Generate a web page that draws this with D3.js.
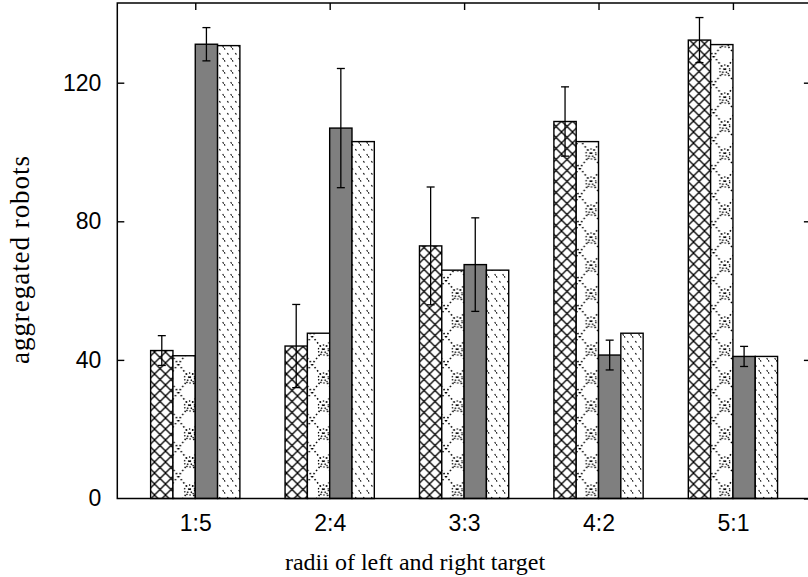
<!DOCTYPE html>
<html>
<head>
<meta charset="utf-8">
<script src="https://cdn.jsdelivr.net/npm/d3@7"></script>
<style>
	body { margin: 0; background: #fff; }
	.tick text { font-family: "Liberation Sans", Arial, sans-serif; font-size: 23px; fill: #000; }
	.axis-title { font-family: "Liberation Serif", "Times New Roman", serif; font-size: 24px; fill: #000; }
</style>
</head>
<body>
<div id="chart"></div>
<script>
// ratio of left and right target radii
const categories = ["1:5", "2:4", "3:3", "4:2", "5:1"];
const series = ["crossed", "dotted", "grey", "dashed"];

// aggregated robots per series
const crossedValues = [42.7, 44.0, 72.9, 108.8, 132.3];
const crossedErrors = [4.3, 12.0, 17.0, 10.0, 6.5];
const dottedValues = [41.2, 47.7, 65.9, 103.0, 131.0];
const greyValues = [131.1, 106.9, 67.5, 41.4, 41.0];
const greyErrors = [4.8, 17.2, 13.5, 4.3, 2.9];
const dashedValues = [130.7, 103.0, 65.9, 47.7, 41.0];

const yTicks = [0, 40, 80, 120];

const chartWidth = 808, chartHeight = 577;
const margin = { top: 3, left: 117.3, bottom: 78.5 };
const plotRight = 810.9; // right frame sits just outside the window

const $svg = d3.select("#chart").append("svg")
	.attr("width", chartWidth)
	.attr("height", chartHeight);

// fill patterns for the four series
const $defs = $svg.append("defs");

const $cross = $defs.append("pattern")
	.attr("id", "pat-crossed")
	.attr("patternUnits", "userSpaceOnUse")
	.attr("width", 11).attr("height", 11)
	.attr("x", 0.5).attr("y", 0);
$cross.append("rect").attr("width", 11).attr("height", 11).attr("fill", "#fff");
$cross.append("path")
	.attr("d", "M0,0L11,11M11,0L0,11M-1,10L1,12M10,-1L12,1")
	.attr("stroke", "#000").attr("stroke-width", 1.3);

const $dots = $defs.append("pattern")
	.attr("id", "pat-dotted")
	.attr("patternUnits", "userSpaceOnUse")
	.attr("width", 22.3).attr("height", 28);
$dots.append("rect").attr("width", 22.3).attr("height", 28).attr("fill", "#fff");
$dots.append("circle")
	.attr("cx", 11.15).attr("cy", 14).attr("r", 5)
	.attr("fill", "none").attr("stroke", "#000")
	.attr("stroke-width", 1.3).attr("stroke-dasharray", "1.3 1.9");
$dots.append("path")
	.attr("d", "M0,0L22.3,28M22.3,0L0,28")
	.attr("stroke", "#000").attr("stroke-width", 1.5)
	.attr("stroke-dasharray", "1.5 2.5");

const $dash = $defs.append("pattern")
	.attr("id", "pat-dashed")
	.attr("patternUnits", "userSpaceOnUse")
	.attr("width", 8).attr("height", 12);
$dash.append("rect").attr("width", 8).attr("height", 12).attr("fill", "#fff");
$dash.append("path")
	.attr("d", "M0,0L8,12")
	.attr("stroke", "#222").attr("stroke-width", 1.2)
	.attr("stroke-dasharray", "2 4");

const fills = {
	crossed: "url(#pat-crossed)",
	dotted: "url(#pat-dotted)",
	grey: "#7f7f7f",
	dashed: "url(#pat-dashed)"
};

// scales
const xScale = d3.scaleLinear()
	.domain([-0.58, 4.58])
	.range([margin.left, plotRight]);
const yScale = d3.scaleLinear()
	.domain([0, 143])
	.range([chartHeight - margin.bottom, margin.top]);

const groupWidth = (xScale(1) - xScale(0)) * 0.664;
const inner = d3.scaleBand()
	.domain(series)
	.range([-groupWidth / 2, groupWidth / 2]);

const rows = [];
categories.forEach(function (c, i) {
	rows.push({ i: i, s: "crossed", v: crossedValues[i], e: crossedErrors[i] });
	rows.push({ i: i, s: "dotted", v: dottedValues[i], e: null });
	rows.push({ i: i, s: "grey", v: greyValues[i], e: greyErrors[i] });
	rows.push({ i: i, s: "dashed", v: dashedValues[i], e: null });
});

// bars
$svg.append("g").selectAll("rect")
	.data(rows)
	.enter().append("rect")
	.attr("x", function (d) { return xScale(d.i) + inner(d.s); })
	.attr("y", function (d) { return yScale(d.v); })
	.attr("width", inner.bandwidth())
	.attr("height", function (d) { return yScale(0) - yScale(d.v); })
	.attr("fill", function (d) { return fills[d.s]; })
	.attr("stroke", "#000")
	.attr("stroke-width", 1.4);

// error bars (only crossed and grey series have them)
const errRows = rows.filter(function (d) { return d.e !== null; });
const $err = $svg.append("g")
	.attr("stroke", "#000")
	.attr("stroke-width", 1.3);
errRows.forEach(function (d) {
	const cx = xScale(d.i) + inner(d.s) + inner.bandwidth() / 2;
	const y1 = yScale(d.v + d.e), y0 = yScale(d.v - d.e);
	$err.append("line").attr("x1", cx).attr("x2", cx).attr("y1", y1).attr("y2", y0);
	$err.append("line").attr("x1", cx - 4).attr("x2", cx + 4).attr("y1", y1).attr("y2", y1);
	$err.append("line").attr("x1", cx - 4).attr("x2", cx + 4).attr("y1", y0).attr("y2", y0);
});

// axes
const $yAxis = $svg.append("g")
	.attr("transform", "translate(" + margin.left + ",0)")
	.call(d3.axisLeft(yScale).tickValues(yTicks).tickSizeInner(-7).tickSizeOuter(0).tickPadding(16));

const $yAxisRight = $svg.append("g")
	.attr("transform", "translate(" + plotRight + ",0)")
	.call(d3.axisRight(yScale).tickValues(yTicks).tickSizeInner(-7).tickSizeOuter(0).tickFormat(""));

const $xAxis = $svg.append("g")
	.attr("transform", "translate(0," + yScale(0) + ")")
	.call(d3.axisBottom(xScale).tickValues(d3.range(categories.length))
		.tickFormat(function (i) { return categories[i]; })
		.tickSizeInner(0).tickSizeOuter(0).tickPadding(16));

const $xAxisTop = $svg.append("g")
	.attr("transform", "translate(0," + margin.top + ")")
	.call(d3.axisTop(xScale).tickValues(d3.range(categories.length))
		.tickSizeInner(-7).tickSizeOuter(0).tickFormat(""));

[$yAxis, $yAxisRight, $xAxis, $xAxisTop].forEach(function ($a) {
	$a.select(".domain").remove();
	$a.selectAll(".tick line").attr("stroke", "#000").attr("stroke-width", 1.4);
});
$yAxis.select(".tick line").filter(function (d) { return d === 0; }).remove();

// plot frame
$svg.append("rect")
	.attr("x", margin.left)
	.attr("y", margin.top)
	.attr("width", plotRight - margin.left)
	.attr("height", yScale(0) - margin.top)
	.attr("fill", "none")
	.attr("stroke", "#000")
	.attr("stroke-width", 1.5);

// axis titles
$svg.append("text")
	.attr("class", "axis-title")
	.attr("x", 415)
	.attr("y", 570)
	.attr("text-anchor", "middle")
	.text("radii of left and right target");

$svg.append("text")
	.attr("class", "axis-title")
	.attr("transform", "translate(29,260) rotate(-90)")
	.attr("text-anchor", "middle")
	.style("font-size", "27px")
	.attr("textLength", 208)
	.attr("lengthAdjust", "spacing")
	.text("aggregated robots");
</script>
</body>
</html>
